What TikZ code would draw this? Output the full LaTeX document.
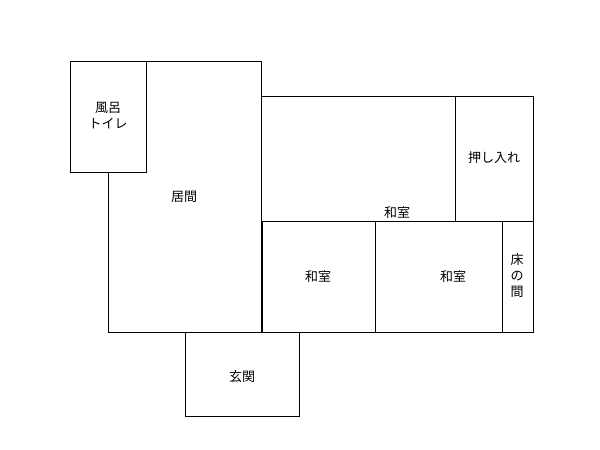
\documentclass[tikz,border=0pt]{standalone}
\usepackage{fontspec}
\setmainfont{Noto Sans CJK JP}
\begin{document}
\begin{tikzpicture}[x=1pt,y=-1pt,room/.style={draw=black,line width=0.8pt,fill=white},lbl/.style={font=\fontsize{13}{16}\selectfont,align=center,inner sep=0pt}]
\useasboundingbox (0,0) rectangle (600,450);
\draw[room] (108,61) rectangle (261,332);
\draw[room] (70,61) rectangle (146,172);
\draw[room] (261,96) rectangle (533,221);
\draw[room] (455,96) rectangle (533,221);
\draw[room] (262,221) rectangle (375,332);
\draw[room] (375,221) rectangle (502,332);
\draw[room] (502,221) rectangle (533,332);
\draw[room] (185,332) rectangle (299,416);
\node[lbl] (bath) at (108,116) {風呂\\トイレ};
\node[lbl] (ima) at (184,197) {居間};
\node[lbl] (wa1) at (397,213) {和室};
\node[lbl] (oshi) at (494,158) {押し入れ};
\node[lbl] (wa2) at (318,277) {和室};
\node[lbl] (wa3) at (453,277) {和室};
\node[lbl] (toko) at (517,276) {床\\の\\間};
\node[lbl] (gen) at (242,377) {玄関};
\end{tikzpicture}
\end{document}
